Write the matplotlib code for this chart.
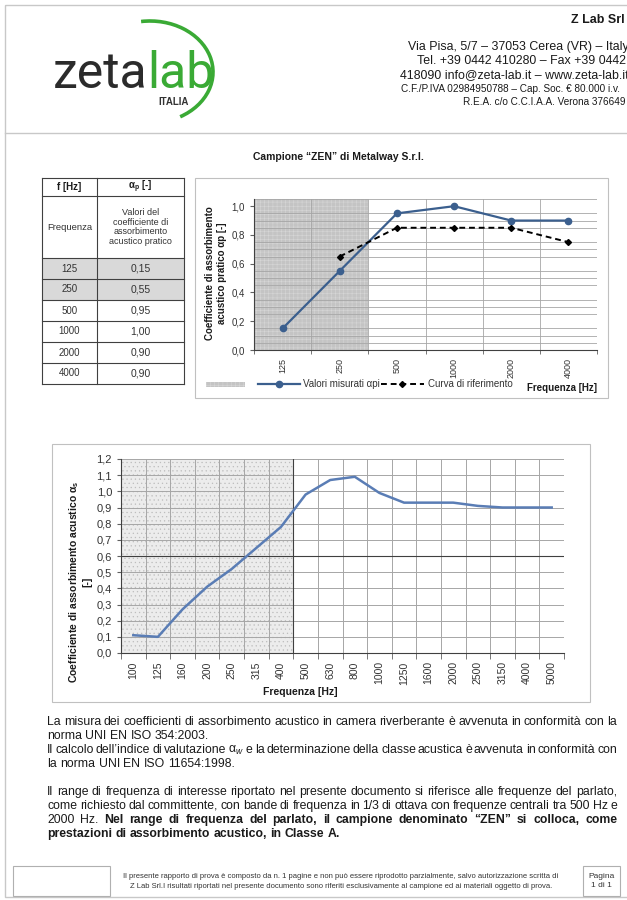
import matplotlib
matplotlib.use('Agg')
import matplotlib.pyplot as plt
from matplotlib.patches import Rectangle, Arc
from matplotlib.lines import Line2D
import numpy as np

plt.rcParams['font.family'] = ['Liberation Sans', 'DejaVu Sans']
plt.rcParams['mathtext.fontset'] = 'custom'
plt.rcParams['mathtext.rm'] = 'Liberation Sans'
plt.rcParams['mathtext.it'] = 'Liberation Sans:italic'
plt.rcParams['mathtext.bf'] = 'Liberation Sans:bold'
plt.rcParams['hatch.linewidth'] = 0.4

W, H = 627, 900

# octave band values (table + top chart)
octave_freq = ['125', '250', '500', '1000', '2000', '4000']
alpha_p = [0.15, 0.55, 0.95, 1.00, 0.90, 0.90]
alpha_ref = [np.nan, 0.65, 0.85, 0.85, 0.85, 0.75]

# 1/3 octave values (bottom chart)
third_freq = ['100', '125', '160', '200', '250', '315', '400', '500', '630',
              '800', '1000', '1250', '1600', '2000', '2500', '3150', '4000', '5000']
alpha_s = [0.11, 0.10, 0.27, 0.41, 0.52, 0.65, 0.78, 0.98, 1.07,
           1.09, 0.99, 0.93, 0.93, 0.93, 0.91, 0.90, 0.90, 0.90]

TXT = '#1a1a1a'
GRID = '#a6a6a6'


def comma(v, nd=1):
    return ('%.*f' % (nd, v)).replace('.', ',')


fig = plt.figure(figsize=(W / 100, H / 100), dpi=100)
page = fig.add_axes([0, 0, 1, 1])
page.set_xlim(0, W)
page.set_ylim(H, 0)
page.axis('off')


def px_axes(x0, y0, x1, y1):
    return fig.add_axes([x0 / W, 1 - y1 / H, (x1 - x0) / W, (y1 - y0) / H])


fig.canvas.draw()
renderer = fig.canvas.get_renderer()


def text_width(s, **kw):
    t = page.text(0, 0, s, **kw)
    w = t.get_window_extent(renderer).width
    t.remove()
    return w


def put_line(y, parts, x0, x1=None, size=8.8):
    # parts = [(text, weight), ...]; justified between x0 and x1 if x1 given
    words = [(w, wt) for txt, wt in parts for w in txt.split()]
    widths = [text_width(w, fontsize=size, fontweight=wt) for w, wt in words]
    if x1 is None:
        gap = text_width('a a', fontsize=size) - text_width('aa', fontsize=size)
    else:
        gap = (x1 - x0 - sum(widths)) / (len(words) - 1)
    x = x0
    for (w, wt), wd in zip(words, widths):
        page.text(x, y, w, fontsize=size, fontweight=wt, color=TXT,
                  ha='left', va='center')
        x += wd + gap


# page frame
page.add_patch(Rectangle((5, 5), 700, 892, fill=False, ec='#c8c8c8', lw=1))
page.plot([5, W], [133, 133], color='#c8c8c8', lw=1)

# logo
logo_kw = dict(fontsize=36, family='Roboto', fontweight='normal')
zw = text_width('zeta', **logo_kw)
page.text(53, 74, 'zeta', color='#2b2b2b', ha='left', va='center', **logo_kw)
page.text(53 + zw, 74, 'lab', color='#3aaa35', ha='left', va='center', **logo_kw)
page.text(174, 102, 'ITALIA', fontsize=7, fontweight='bold', color='#333333',
          ha='center', va='center')
page.add_patch(Arc((150, 72), 126, 102, theta1=-100, theta2=56,
                   color='#3aaa35', lw=2.6))

# header address
page.text(625, 20, 'Z Lab Srl', fontsize=9, fontweight='bold', color=TXT, ha='right', va='center')
page.text(408, 47, 'Via Pisa, 5/7 – 37053 Cerea (VR) – Italy', fontsize=8.9, color=TXT, va='center')
page.text(417, 61, 'Tel. +39 0442 410280 – Fax +39 0442', fontsize=8.9, color=TXT, va='center')
page.text(400, 75, '418090 info@zeta-lab.it – www.zeta-lab.it', fontsize=8.9, color=TXT, va='center')
page.text(401, 89, 'C.F./P.IVA 02984950788 – Cap. Soc. € 80.000 i.v.', fontsize=7.2, color=TXT, va='center')
page.text(463, 102, 'R.E.A. c/o C.C.I.A.A. Verona 376649', fontsize=7.2, color=TXT, va='center')

# title
page.text(338, 157, 'Campione “ZEN” di Metalway S.r.l.', fontsize=7.5,
          fontweight='bold', color=TXT, ha='center', va='center')

# table
tx = [42, 97, 184]
ty = [178, 196, 258] + [258 + 21 * (i + 1) for i in range(len(octave_freq))]
for i in range(2):
    page.add_patch(Rectangle((tx[0], ty[2 + i]), tx[2] - tx[0], 21,
                             fc='#d9d9d9', ec='none'))
for yy in ty:
    page.plot([tx[0], tx[2]], [yy, yy], color='#404040', lw=0.8)
for xx in tx:
    page.plot([xx, xx], [ty[0], ty[-1]], color='#404040', lw=0.8)
cx1, cx2 = (tx[0] + tx[1]) / 2, (tx[1] + tx[2]) / 2
page.text(cx1, 187, 'f [Hz]', fontsize=7, fontweight='bold', color=TXT, ha='center', va='center')
page.text(cx2, 187, r'α$_\mathbf{p}$ [-]', fontsize=7, fontweight='bold', color=TXT, ha='center', va='center')
page.text(cx1, 227, 'Frequenza', fontsize=6.8, color='#333333', ha='center', va='center')
page.text(cx2, 227, 'Valori del\ncoefficiente di\nassorbimento\nacustico pratico',
          fontsize=6.5, color='#333333', ha='center', va='center', linespacing=1.05)
for i, (f, a) in enumerate(zip(octave_freq, alpha_p)):
    yc = ty[2 + i] + 10.5
    page.text(cx1, yc, f, fontsize=7, color='#333333', ha='center', va='center')
    page.text(cx2, yc, comma(a, 2), fontsize=7.5, color='#333333', ha='center', va='center')

# ---- top chart (octave bands) ----
page.add_patch(Rectangle((195, 178), 413, 220, fill=False, ec='#c0c0c0', lw=0.8))
ax1 = px_axes(254, 199, 597, 350)
x1 = np.arange(len(octave_freq))
ax1.set_xlim(-0.5, len(octave_freq) - 0.5)
ax1.set_ylim(0, 1.05)
ax1.axvspan(-0.5, 1.5, facecolor='#c4c4c4', edgecolor='#d6d6d6', hatch='++++',
            lw=0, zorder=0)
ax1.set_yticks(np.arange(0, 1.01, 0.2))
ax1.set_yticks(np.arange(0, 1.051, 0.05), minor=True)
ax1.set_yticklabels([comma(v) for v in np.arange(0, 1.01, 0.2)])
ax1.set_xticks(x1)
ax1.set_xticklabels(octave_freq, rotation=90)
ax1.set_xticks(np.arange(-0.5, len(octave_freq)), minor=True)
ax1.grid(which='minor', color=GRID, lw=0.6, zorder=0.5)
ax1.set_axisbelow(True)
ax1.tick_params(axis='x', which='major', length=0, labelsize=6.5, labelcolor='#333333', pad=6)
ax1.tick_params(axis='x', which='minor', length=3, color='#606060')
ax1.tick_params(axis='y', which='major', length=3, labelsize=7, labelcolor='#333333', color='#606060')
ax1.tick_params(axis='y', which='minor', length=0)
for s in ['top', 'right']:
    ax1.spines[s].set_visible(False)
for s in ['left', 'bottom']:
    ax1.spines[s].set_color('#404040')
    ax1.spines[s].set_linewidth(0.8)
ax1.patch.set_alpha(0)
ax1.plot(x1, alpha_p, color='#3b5f8e', lw=1.6, marker='o', ms=4.5, zorder=3)
ax1.plot(x1, alpha_ref, color='black', lw=1.4, ls=(0, (3, 2)), marker='D', ms=3, zorder=3)

page.text(216, 273, 'Coefficiente di assorbimento\nacustico pratico αp [-]', rotation=90,
          fontsize=7, fontweight='bold', color=TXT, ha='center', va='center', linespacing=1.15)
# legend
page.add_patch(Rectangle((206, 382), 39, 4.5, fc='#c4c4c4', ec='#d6d6d6', hatch='++++', lw=0))
page.add_line(Line2D([258, 279, 300], [384, 384, 384], color='#3b5f8e', lw=1.6,
                     marker='o', ms=4.5, markevery=[1]))
page.text(303, 384, 'Valori misurati αpi', fontsize=7, color='#333333', va='center')
page.add_line(Line2D([381, 402, 424], [384, 384, 384], color='black', lw=1.4,
                     ls=(0, (3, 2)), marker='D', ms=3, markevery=[1]))
page.text(428, 384, 'Curva di riferimento', fontsize=7, color='#333333', va='center')
page.text(597, 388, 'Frequenza [Hz]', fontsize=7, fontweight='bold', color=TXT,
          ha='right', va='center')

# ---- bottom chart (1/3 octave bands) ----
page.add_patch(Rectangle((52, 444), 538, 258, fill=False, ec='#c0c0c0', lw=0.8))
ax2 = px_axes(121, 459, 564, 653)
x2 = np.arange(len(third_freq))
ax2.set_xlim(-0.5, len(third_freq) - 0.5)
ax2.set_ylim(0, 1.2)
ax2.axvspan(-0.5, 6.5, facecolor='#ececec', edgecolor='#bdbdbd', hatch='....',
            lw=0, zorder=0)
yt = np.arange(0, 1.21, 0.1)
ax2.set_yticks(yt)
ax2.set_yticklabels([comma(v) for v in yt])
ax2.set_xticks(x2)
ax2.set_xticklabels(third_freq, rotation=90)
ax2.set_xticks(np.arange(-0.5, len(third_freq)), minor=True)
ax2.grid(which='minor', axis='x', color=GRID, lw=0.7)
ax2.grid(which='major', axis='y', color=GRID, lw=0.7)
ax2.axhline(0.6, color='#404040', lw=0.8, zorder=0.6)
ax2.axvline(6.5, color='#404040', lw=0.8, zorder=0.6)
ax2.set_axisbelow(True)
ax2.tick_params(axis='x', which='major', length=0, labelsize=7.5, labelcolor='#333333', pad=6)
ax2.tick_params(axis='x', which='minor', length=4, color='#606060')
ax2.tick_params(axis='y', length=3, labelsize=8, labelcolor='#333333', color='#606060')
for s in ['top', 'right']:
    ax2.spines[s].set_visible(False)
for s in ['left', 'bottom']:
    ax2.spines[s].set_color('#404040')
    ax2.spines[s].set_linewidth(0.8)
ax2.patch.set_alpha(0)
ax2.plot(x2, alpha_s, color='#5a7db5', lw=1.8, zorder=3)

page.text(80, 582, 'Coefficiente di assorbimento acustico α$_\\mathbf{s}$\n[-]', rotation=90,
          fontsize=7.5, fontweight='bold', color=TXT, ha='center', va='center', linespacing=1.2)
page.text(300, 692, 'Frequenza [Hz]', fontsize=7.5, fontweight='bold', color=TXT,
          ha='center', va='center')

# ---- notes ----
X0, X1 = 47, 617
put_line(722, [('La misura dei coefficienti di assorbimento acustico in camera riverberante è avvenuta in conformità con la', 'normal')], X0, X1)
put_line(736, [('norma UNI EN ISO 354:2003.', 'normal')], X0)
put_line(750, [('Il calcolo dell’indice di valutazione α$_w$ e la determinazione della classe acustica è avvenuta in conformità con', 'normal')], X0, X1)
put_line(764, [('la norma UNI EN ISO 11654:1998.', 'normal')], X0)
put_line(792, [('Il range di frequenza di interesse riportato nel presente documento si riferisce alle frequenze del parlato,', 'normal')], X0, X1)
put_line(806, [('come richiesto dal committente, con bande di frequenza in 1/3 di ottava con frequenze centrali tra 500 Hz e', 'normal')], X0, X1)
put_line(820, [('2000 Hz.', 'normal'), ('Nel range di frequenza del parlato, il campione denominato “ZEN” si colloca, come', 'bold')], X0, X1)
put_line(834, [('prestazioni di assorbimento acustico, in Classe A.', 'bold')], X0)

# ---- footer ----
page.add_patch(Rectangle((13, 866), 97, 30, fill=False, ec='#b0b0b0', lw=0.8))
page.text(341, 876, 'Il presente rapporto di prova è composto da n. 1 pagine e non può essere riprodotto parzialmente, salvo autorizzazione scritta di',
          fontsize=5.5, color='#333333', ha='center', va='center')
page.text(341, 886, 'Z Lab Srl.I risultati riportati nel presente documento sono riferiti esclusivamente al campione ed ai materiali oggetto di prova.',
          fontsize=5.5, color='#333333', ha='center', va='center')
page.add_patch(Rectangle((583, 866), 37, 30, fill=False, ec='#b0b0b0', lw=0.8))
page.text(601.5, 881, 'Pagina\n1 di 1', fontsize=6, color='#333333', ha='center',
          va='center', linespacing=1.3)

fig.savefig('out.png', dpi=100)
